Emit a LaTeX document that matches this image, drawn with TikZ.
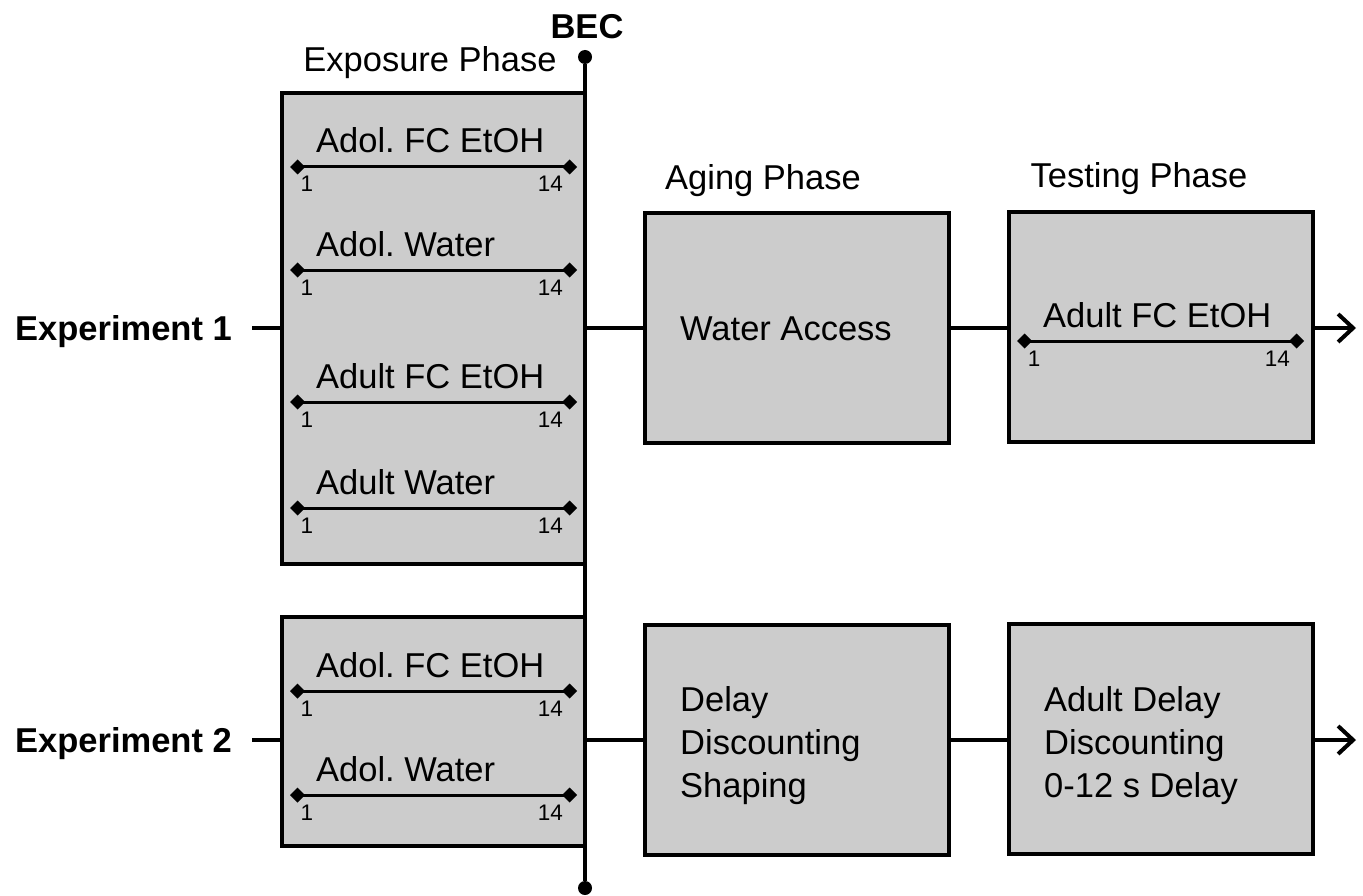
\documentclass[tikz,border=0pt]{standalone}
\usepackage{fontspec}
\setmainfont{Liberation Sans}
\usepackage{tikz}
\usetikzlibrary{arrows.meta}
\definecolor{boxgray}{gray}{0.8}
\frenchspacing

\begin{document}
\begin{tikzpicture}[x=1pt,y=-1pt,
  phasebox/.style={draw,fill=boxgray,line width=4pt,inner sep=0pt},
  link/.style={line width=4pt},
  txt/.style={font=\fontsize{34.5}{43}\selectfont,inner sep=0pt},
  boldtxt/.style={font=\fontsize{34.5}{43}\selectfont\bfseries,inner sep=0pt},
  daynum/.style={font=\fontsize{22.5}{26}\selectfont,inner sep=0pt}]
\useasboundingbox (0,0) rectangle (1363,896);
%
% day 1 .. day 14 schedule bar
\newcommand{\schedule}[4]{
  \node[txt,anchor=base west] (#1) at (#2+26, #3-14) {#4};
  \coordinate (#1a) at (#2,#3);
  \coordinate (#1b) at (#2+287,#3);
  \draw[line width=3pt,{Diamond[length=15pt,width=15pt]}-{Diamond[length=15pt,width=15pt]}] (#1a) -- (#1b);
  \node[daynum,anchor=base] at (#2+17,#3+25) {1};
  \node[daynum,anchor=base east] at (#2+273,#3+25) {14};
}
%
% boxes
\node[phasebox,minimum width=303pt,minimum height=471pt] (expo1) at (433.5,328.5) {};
\node[phasebox,minimum width=303pt,minimum height=229pt] (expo2) at (433.5,731.5) {};
\node[phasebox,minimum width=304pt,minimum height=230pt] (aging1) at (797,328) {};
\node[phasebox,minimum width=304pt,minimum height=230pt] (aging2) at (797,740) {};
\node[phasebox,minimum width=304pt,minimum height=230pt] (test1) at (1161,327) {};
\node[phasebox,minimum width=304pt,minimum height=230pt] (test2) at (1161,739) {};
%
% titles
\node[boldtxt,anchor=base] (bec) at (587,39) {BEC};
\node[txt,anchor=base] (expotitle) at (430,72) {Exposure Phase};
\node[txt,anchor=base] (agingtitle) at (763,190) {Aging Phase};
\node[txt,anchor=base] (testtitle) at (1139,188) {Testing Phase};
\node[boldtxt,anchor=base east] (exp1) at (232,340) {Experiment 1};
\node[boldtxt,anchor=base east] (exp2) at (232,752) {Experiment 2};
%
% schedules
\schedule{adolfc}{290}{167}{Adol. FC EtOH}
\schedule{adolw}{290}{270}{Adol. Water}
\schedule{adultfc}{290}{402}{Adult FC EtOH}
\schedule{adultw}{290}{508}{Adult Water}
\schedule{adolfcb}{290}{691}{Adol. FC EtOH}
\schedule{adolwb}{290}{795}{Adol. Water}
\schedule{testfc}{1017}{341}{Adult FC EtOH}
%
\node[txt,anchor=base west] (water) at (680,340) {Water Access};
\node[txt,anchor=north west,align=left] (shaping) at (680,686) {Delay\\Discounting\\Shaping};
\node[txt,anchor=north west,align=left] (delay) at (1044,686) {Adult Delay\\Discounting\\0-12 s Delay};
%
% connectors
\coordinate (end1) at (1356,328);
\coordinate (end2) at (1356,740);
\draw[link,shorten <=20pt] (exp1.east |- aging1) -- (expo1.west |- aging1);
\draw[link,shorten <=20pt] (exp2.east |- aging2) -- (expo2.west |- aging2);
\draw[link] (expo1.east |- aging1) -- (aging1.west);
\draw[link] (expo2.east |- aging2) -- (aging2.west);
\draw[link] (aging1.east) -- (test1.west |- aging1);
\draw[link] (aging2.east) -- (test2.west |- aging2);
\draw[link,-{Straight Barb[length=15pt,width=28pt]}] (test1.east |- end1) -- (end1);
\draw[link,-{Straight Barb[length=15pt,width=28pt]}] (test2.east |- end2) -- (end2);
%
\node[circle,fill,inner sep=0pt,minimum size=14pt] (bectop) at (585,57) {};
\node[circle,fill,inner sep=0pt,minimum size=14pt] (becbot) at (585,888) {};
\draw[link] (bectop) -- (becbot);
\end{tikzpicture}
\end{document}
